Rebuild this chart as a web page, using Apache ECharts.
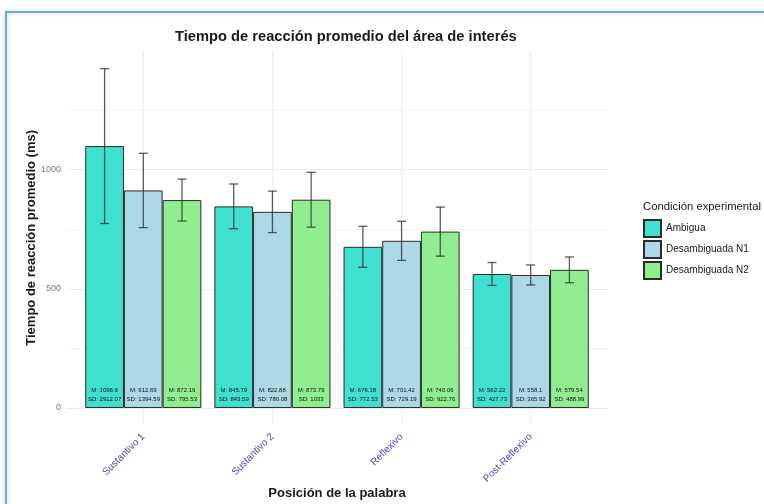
<!DOCTYPE html>
<html>
<head>
<meta charset="utf-8">
<script src="https://cdn.jsdelivr.net/npm/echarts@6/dist/echarts.min.js"></script>
<style>
  html, body { margin: 0; padding: 0; background: #fff; }
  #chart { width: 764px; height: 504px; }
</style>
</head>
<body>
<div id="chart"></div>
<script>
// datos
const categories = ['Sustantivo 1', 'Sustantivo 2', 'Reflexivo', 'Post-Reflexivo'];
const conditions = ['Ambigua', 'Desambiguada N1', 'Desambiguada N2'];
const colors = ['#40E0D0', '#ADD8E6', '#90EE90'];

const meanAmbigua = [1098.9, 845.79, 676.18, 562.22];
const meanN1 = [912.69, 822.88, 701.42, 558.1];
const meanN2 = [872.19, 873.79, 740.06, 579.54];

const sdAmbigua = [2912.07, 843.59, 772.53, 427.73];
const sdN1 = [1394.59, 780.08, 729.19, 365.92];
const sdN2 = [795.53, 1033, 922.76, 488.99];

const errAmbigua = [325, 94, 86, 48];
const errN1 = [156, 87, 82, 42];
const errN2 = [88, 115, 103, 54];

const yTicks = [0, 500, 1000];

const means = [meanAmbigua, meanN1, meanN2];
const sds = [sdAmbigua, sdN1, sdN2];
const errs = [errAmbigua, errN1, errN2];

const chart = echarts.init(document.getElementById('chart'));

const BAR_W = 38.7;
const Y_MIN = -71.4, Y_MAX = 1499;
const gridTop = 50.7, gridBottom = 504 - 425;
const FONT = '"Liberation Sans", Arial, sans-serif';

const barSeries = conditions.map((name, s) => ({
  name: name,
  type: 'bar',
  xAxisIndex: 1,
  yAxisIndex: 1,
  data: means[s],
  barWidth: BAR_W,
  barGap: '0%',
  clip: false,
  itemStyle: { color: colors[s], borderColor: '#2b2b2b', borderWidth: 1 },
  label: {
    show: true,
    position: 'insideBottom',
    distance: 4,
    fontSize: 6,
    lineHeight: 9,
    color: '#111',
    formatter: p => 'M: ' + p.value + '\nSD: ' + sds[s][p.dataIndex]
  },
  z: 2
}));

const errSeries = conditions.map((name, s) => ({
  name: 'err' + s,
  type: 'custom',
  xAxisIndex: 1,
  yAxisIndex: 1,
  clip: false,
  z: 5,
  data: categories.map((c, i) => [i, means[s][i] - errs[s][i], means[s][i] + errs[s][i]]),
  renderItem: (params, api) => {
    const off = (s - 1) * BAR_W;
    const lo = api.coord([api.value(0), api.value(1)]);
    const hi = api.coord([api.value(0), api.value(2)]);
    const x = lo[0] + off;
    const cap = 4.5;
    const st = { stroke: '#333', lineWidth: 1.3, opacity: 0.8 };
    return {
      type: 'group',
      children: [
        { type: 'line', shape: { x1: x, y1: lo[1], x2: x, y2: hi[1] }, style: st },
        { type: 'line', shape: { x1: x - cap, y1: lo[1], x2: x + cap, y2: lo[1] }, style: st },
        { type: 'line', shape: { x1: x - cap, y1: hi[1], x2: x + cap, y2: hi[1] }, style: st }
      ]
    };
  }
}));

const option = {
  animation: false,
  textStyle: { fontFamily: FONT },
  title: {
    text: 'Tiempo de reacción promedio del área de interés',
    left: 175,
    top: 29,
    padding: 0,
    textStyle: { fontSize: 14.7, fontWeight: 'bold', color: '#1a1a1a' }
  },
  legend: {
    orient: 'vertical',
    left: 643,
    top: 219,
    padding: 0,
    itemWidth: 17,
    itemHeight: 17,
    itemGap: 2,
    icon: 'rect',
    data: conditions,
    textStyle: { fontSize: 10, color: '#1a1a1a' }
  },
  graphic: [
    {
      type: 'rect',
      z: -10,
      shape: { x: 6, y: 12, width: 900, height: 700 },
      style: { fill: 'none', stroke: '#5fb4cb', lineWidth: 2, shadowBlur: 5, shadowColor: 'rgba(0,0,0,0.25)' }
    },
    {
      type: 'text',
      left: 643,
      top: 201,
      style: { text: 'Condición experimental', fontSize: 11.3, fill: '#1a1a1a', fontFamily: FONT }
    }
  ],
  grid: [
    { left: 66, right: 764 - 608, top: gridTop, bottom: gridBottom, outerBoundsMode: 'none', containLabel: false },
    { left: 143.3, right: 764 - 530.7, top: gridTop, bottom: gridBottom, outerBoundsMode: 'none', containLabel: false }
  ],
  xAxis: [
    { gridIndex: 0, type: 'value', min: 0.4, max: 4.6, show: false },
    {
      gridIndex: 1,
      type: 'category',
      data: categories,
      boundaryGap: false,
      axisLine: { show: false },
      axisTick: { show: false },
      splitLine: { show: true, interval: 0, lineStyle: { color: '#ebebeb', width: 1 } },
      axisLabel: { interval: 0, rotate: 45, margin: 10, fontSize: 10, color: '#4a4ab8' },
      name: 'Posición de la palabra',
      nameLocation: 'middle',
      nameGap: 62,
      nameMoveOverlap: false,
      nameTextStyle: { fontSize: 13, fontWeight: 'bold', color: '#1a1a1a' }
    }
  ],
  yAxis: [
    {
      gridIndex: 0,
      type: 'value',
      min: Y_MIN,
      max: Y_MAX,
      splitNumber: 3,
      axisLine: { show: false },
      axisTick: { show: false },
      axisLabel: {
        fontSize: 9,
        color: '#7a7a7a',
        margin: 5,
        showMinLabel: false,
        showMaxLabel: false,
        formatter: v => (yTicks.includes(v) ? String(v) : '')
      },
      splitLine: { show: true, showMinLine: false, showMaxLine: false, lineStyle: { color: '#ebebeb', width: 1 } },
      minorTick: { show: false, splitNumber: 2 },
      minorSplitLine: { show: true, lineStyle: { color: '#f3f3f3', width: 1 } },
      name: 'Tiempo de reacción promedio (ms)',
      nameLocation: 'middle',
      nameGap: 28,
      nameMoveOverlap: false,
      nameTextStyle: { fontSize: 13, fontWeight: 'bold', color: '#1a1a1a' }
    },
    { gridIndex: 1, type: 'value', min: Y_MIN, max: Y_MAX, show: false }
  ],
  series: barSeries.concat(errSeries)
};

chart.setOption(option);
</script>
</body>
</html>
